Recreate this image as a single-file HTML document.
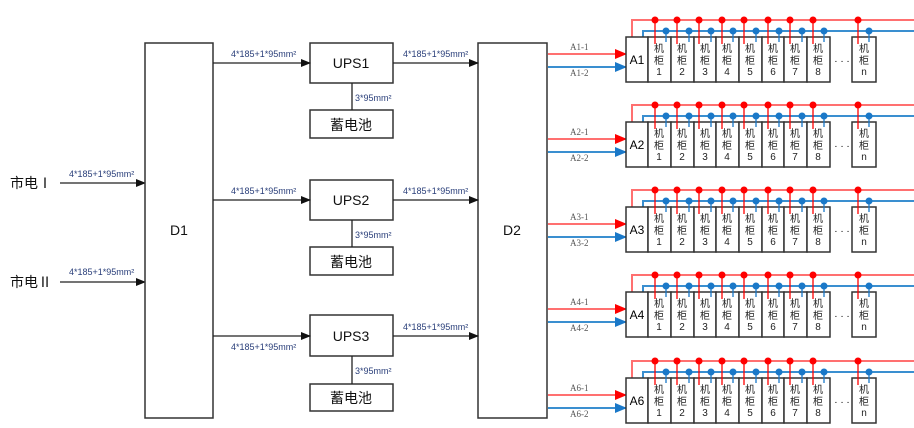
<!DOCTYPE html>
<html><head><meta charset="utf-8"><style>
html,body{margin:0;padding:0;background:#fff;}
svg{display:block;font-family:"Liberation Sans","Noto Sans CJK SC",sans-serif;}
.b{fill:#fff;stroke:#333;stroke-width:1.5}
.l{stroke:#222;stroke-width:1.3;fill:none}
.lab{fill:#2a3f7a;font-size:9px}
.big{fill:#111;font-size:14px;text-anchor:middle}
.c{font-size:10px;fill:#222;text-anchor:middle}
.al{font-family:"Liberation Serif",serif;font-size:9px;fill:#555}
.rl{stroke:#ff7070;stroke-width:2;fill:none}
.bl{stroke:#3a8fd0;stroke-width:2;fill:none}
.rd{stroke:#f00;stroke-width:1.3;fill:none}
.bd{stroke:#1a78c8;stroke-width:1.3;fill:none}
</style></head><body>
<svg width="914" height="428" viewBox="0 0 914 428" xmlns="http://www.w3.org/2000/svg">
<defs>
<marker id="ak" markerWidth="10" markerHeight="8" refX="9" refY="4" orient="auto" markerUnits="userSpaceOnUse"><path d="M0,0L10,4L0,8z" fill="#111"/></marker>
<marker id="ar" markerWidth="12" markerHeight="10" refX="11" refY="5" orient="auto" markerUnits="userSpaceOnUse"><path d="M0,0L12,5L0,10z" fill="#f00"/></marker>
<marker id="ab" markerWidth="12" markerHeight="10" refX="11" refY="5" orient="auto" markerUnits="userSpaceOnUse"><path d="M0,0L12,5L0,10z" fill="#1a78c8"/></marker>
</defs>

<!-- left part -->
<text x="10" y="188" font-size="14" fill="#111">市电Ⅰ</text>
<text x="10" y="287" font-size="14" fill="#111">市电Ⅱ</text>
<line x1="60" y1="183" x2="145" y2="183" class="l" marker-end="url(#ak)"/>
<line x1="60" y1="282" x2="145" y2="282" class="l" marker-end="url(#ak)"/>
<text x="69" y="177" class="lab">4*185+1*95mm²</text>
<text x="69" y="275" class="lab">4*185+1*95mm²</text>

<rect x="145" y="43" width="68" height="375" class="b"/>
<text x="179" y="235" class="big">D1</text>
<rect x="478" y="43" width="69" height="375" class="b"/>
<text x="512" y="235" class="big">D2</text>

<rect x="310" y="43" width="83" height="40" class="b"/><text x="351" y="68" class="big">UPS1</text>
<rect x="310" y="110" width="83" height="28" class="b"/><text x="351" y="130" class="big">蓄电池</text>
<line x1="352" y1="83" x2="352" y2="110" class="l"/><text x="355" y="101" class="lab">3*95mm²</text>
<line x1="213" y1="63" x2="310" y2="63" class="l" marker-end="url(#ak)"/><text x="231" y="57" class="lab">4*185+1*95mm²</text>
<line x1="393" y1="63" x2="478" y2="63" class="l" marker-end="url(#ak)"/><text x="403" y="57" class="lab">4*185+1*95mm²</text>

<rect x="310" y="180" width="83" height="40" class="b"/><text x="351" y="205" class="big">UPS2</text>
<rect x="310" y="247" width="83" height="28" class="b"/><text x="351" y="267" class="big">蓄电池</text>
<line x1="352" y1="220" x2="352" y2="247" class="l"/><text x="355" y="238" class="lab">3*95mm²</text>
<line x1="213" y1="200" x2="310" y2="200" class="l" marker-end="url(#ak)"/><text x="231" y="194" class="lab">4*185+1*95mm²</text>
<line x1="393" y1="200" x2="478" y2="200" class="l" marker-end="url(#ak)"/><text x="403" y="194" class="lab">4*185+1*95mm²</text>

<rect x="310" y="315" width="83" height="41" class="b"/><text x="351" y="341" class="big">UPS3</text>
<rect x="310" y="384" width="83" height="27" class="b"/><text x="351" y="403" class="big">蓄电池</text>
<line x1="352" y1="356" x2="352" y2="384" class="l"/><text x="355" y="374" class="lab">3*95mm²</text>
<line x1="213" y1="336" x2="310" y2="336" class="l" marker-end="url(#ak)"/><text x="231" y="350" class="lab">4*185+1*95mm²</text>
<line x1="393" y1="336" x2="478" y2="336" class="l" marker-end="url(#ak)"/><text x="403" y="330" class="lab">4*185+1*95mm²</text>

<!-- rows -->
<g id="r1">
<path class="rl" d="M632 37V20H914"/><path class="bl" d="M643 37V31H914"/>
<line x1="548" y1="54" x2="626" y2="54" class="rl" marker-end="url(#ar)"/>
<line x1="548" y1="67" x2="626" y2="67" class="bl" marker-end="url(#ab)"/>
<text x="570" y="50" class="al">A1-1</text><text x="570" y="76" class="al">A1-2</text>
<rect x="626" y="37" width="22" height="45" class="b"/><text x="637" y="64" font-size="12" text-anchor="middle">A1</text>
<rect x="648" y="37" width="23" height="45" class="b"/><rect x="671" y="37" width="23" height="45" class="b"/><rect x="694" y="37" width="22" height="45" class="b"/><rect x="716" y="37" width="23" height="45" class="b"/><rect x="739" y="37" width="23" height="45" class="b"/><rect x="762" y="37" width="22" height="45" class="b"/><rect x="784" y="37" width="23" height="45" class="b"/><rect x="807" y="37" width="23" height="45" class="b"/><rect x="852" y="37" width="24" height="45" class="b"/>
<path class="rd" d="M655 20V44M677 20V44M699 20V44M722 20V44M744 20V44M768 20V44M790 20V44M813 20V44M858 20V44"/>
<path class="bd" d="M666 31V42M689 31V42M711 31V42M733 31V42M756 31V42M779 31V42M802 31V42M824 31V42M869 31V42"/>
<g fill="#f00"><circle cx="655" cy="20" r="3.5"/><circle cx="677" cy="20" r="3.5"/><circle cx="699" cy="20" r="3.5"/><circle cx="722" cy="20" r="3.5"/><circle cx="744" cy="20" r="3.5"/><circle cx="768" cy="20" r="3.5"/><circle cx="790" cy="20" r="3.5"/><circle cx="813" cy="20" r="3.5"/><circle cx="858" cy="20" r="3.5"/></g>
<g fill="#1a78c8"><circle cx="666" cy="31" r="3.5"/><circle cx="689" cy="31" r="3.5"/><circle cx="711" cy="31" r="3.5"/><circle cx="733" cy="31" r="3.5"/><circle cx="756" cy="31" r="3.5"/><circle cx="779" cy="31" r="3.5"/><circle cx="802" cy="31" r="3.5"/><circle cx="824" cy="31" r="3.5"/><circle cx="869" cy="31" r="3.5"/></g>
<text class="c" x="659 682 705 727 750 773 795 818 864" y="52">机机机机机机机机机</text>
<text class="c" x="659 682 705 727 750 773 795 818 864" y="64">柜柜柜柜柜柜柜柜柜</text>
<text class="c" x="659 682 705 727 750 773 795 818 864" y="75">12345678n</text>
<text x="842" y="64" font-size="10" text-anchor="middle">· · ·</text>
</g>

<g transform="translate(0,85)">
<path class="rl" d="M632 37V20H914"/><path class="bl" d="M643 37V31H914"/>
<line x1="548" y1="54" x2="626" y2="54" class="rl" marker-end="url(#ar)"/>
<line x1="548" y1="67" x2="626" y2="67" class="bl" marker-end="url(#ab)"/>
<text x="570" y="50" class="al">A2-1</text><text x="570" y="76" class="al">A2-2</text>
<rect x="626" y="37" width="22" height="45" class="b"/><text x="637" y="64" font-size="12" text-anchor="middle">A2</text>
<rect x="648" y="37" width="23" height="45" class="b"/><rect x="671" y="37" width="23" height="45" class="b"/><rect x="694" y="37" width="22" height="45" class="b"/><rect x="716" y="37" width="23" height="45" class="b"/><rect x="739" y="37" width="23" height="45" class="b"/><rect x="762" y="37" width="22" height="45" class="b"/><rect x="784" y="37" width="23" height="45" class="b"/><rect x="807" y="37" width="23" height="45" class="b"/><rect x="852" y="37" width="24" height="45" class="b"/>
<path class="rd" d="M655 20V44M677 20V44M699 20V44M722 20V44M744 20V44M768 20V44M790 20V44M813 20V44M858 20V44"/>
<path class="bd" d="M666 31V42M689 31V42M711 31V42M733 31V42M756 31V42M779 31V42M802 31V42M824 31V42M869 31V42"/>
<g fill="#f00"><circle cx="655" cy="20" r="3.5"/><circle cx="677" cy="20" r="3.5"/><circle cx="699" cy="20" r="3.5"/><circle cx="722" cy="20" r="3.5"/><circle cx="744" cy="20" r="3.5"/><circle cx="768" cy="20" r="3.5"/><circle cx="790" cy="20" r="3.5"/><circle cx="813" cy="20" r="3.5"/><circle cx="858" cy="20" r="3.5"/></g>
<g fill="#1a78c8"><circle cx="666" cy="31" r="3.5"/><circle cx="689" cy="31" r="3.5"/><circle cx="711" cy="31" r="3.5"/><circle cx="733" cy="31" r="3.5"/><circle cx="756" cy="31" r="3.5"/><circle cx="779" cy="31" r="3.5"/><circle cx="802" cy="31" r="3.5"/><circle cx="824" cy="31" r="3.5"/><circle cx="869" cy="31" r="3.5"/></g>
<text class="c" x="659 682 705 727 750 773 795 818 864" y="52">机机机机机机机机机</text>
<text class="c" x="659 682 705 727 750 773 795 818 864" y="64">柜柜柜柜柜柜柜柜柜</text>
<text class="c" x="659 682 705 727 750 773 795 818 864" y="75">12345678n</text>
<text x="842" y="64" font-size="10" text-anchor="middle">· · ·</text>
</g>

<g transform="translate(0,170)">
<path class="rl" d="M632 37V20H914"/><path class="bl" d="M643 37V31H914"/>
<line x1="548" y1="54" x2="626" y2="54" class="rl" marker-end="url(#ar)"/>
<line x1="548" y1="67" x2="626" y2="67" class="bl" marker-end="url(#ab)"/>
<text x="570" y="50" class="al">A3-1</text><text x="570" y="76" class="al">A3-2</text>
<rect x="626" y="37" width="22" height="45" class="b"/><text x="637" y="64" font-size="12" text-anchor="middle">A3</text>
<rect x="648" y="37" width="23" height="45" class="b"/><rect x="671" y="37" width="23" height="45" class="b"/><rect x="694" y="37" width="22" height="45" class="b"/><rect x="716" y="37" width="23" height="45" class="b"/><rect x="739" y="37" width="23" height="45" class="b"/><rect x="762" y="37" width="22" height="45" class="b"/><rect x="784" y="37" width="23" height="45" class="b"/><rect x="807" y="37" width="23" height="45" class="b"/><rect x="852" y="37" width="24" height="45" class="b"/>
<path class="rd" d="M655 20V44M677 20V44M699 20V44M722 20V44M744 20V44M768 20V44M790 20V44M813 20V44M858 20V44"/>
<path class="bd" d="M666 31V42M689 31V42M711 31V42M733 31V42M756 31V42M779 31V42M802 31V42M824 31V42M869 31V42"/>
<g fill="#f00"><circle cx="655" cy="20" r="3.5"/><circle cx="677" cy="20" r="3.5"/><circle cx="699" cy="20" r="3.5"/><circle cx="722" cy="20" r="3.5"/><circle cx="744" cy="20" r="3.5"/><circle cx="768" cy="20" r="3.5"/><circle cx="790" cy="20" r="3.5"/><circle cx="813" cy="20" r="3.5"/><circle cx="858" cy="20" r="3.5"/></g>
<g fill="#1a78c8"><circle cx="666" cy="31" r="3.5"/><circle cx="689" cy="31" r="3.5"/><circle cx="711" cy="31" r="3.5"/><circle cx="733" cy="31" r="3.5"/><circle cx="756" cy="31" r="3.5"/><circle cx="779" cy="31" r="3.5"/><circle cx="802" cy="31" r="3.5"/><circle cx="824" cy="31" r="3.5"/><circle cx="869" cy="31" r="3.5"/></g>
<text class="c" x="659 682 705 727 750 773 795 818 864" y="52">机机机机机机机机机</text>
<text class="c" x="659 682 705 727 750 773 795 818 864" y="64">柜柜柜柜柜柜柜柜柜</text>
<text class="c" x="659 682 705 727 750 773 795 818 864" y="75">12345678n</text>
<text x="842" y="64" font-size="10" text-anchor="middle">· · ·</text>
</g>

<g transform="translate(0,255)">
<path class="rl" d="M632 37V20H914"/><path class="bl" d="M643 37V31H914"/>
<line x1="548" y1="54" x2="626" y2="54" class="rl" marker-end="url(#ar)"/>
<line x1="548" y1="67" x2="626" y2="67" class="bl" marker-end="url(#ab)"/>
<text x="570" y="50" class="al">A4-1</text><text x="570" y="76" class="al">A4-2</text>
<rect x="626" y="37" width="22" height="45" class="b"/><text x="637" y="64" font-size="12" text-anchor="middle">A4</text>
<rect x="648" y="37" width="23" height="45" class="b"/><rect x="671" y="37" width="23" height="45" class="b"/><rect x="694" y="37" width="22" height="45" class="b"/><rect x="716" y="37" width="23" height="45" class="b"/><rect x="739" y="37" width="23" height="45" class="b"/><rect x="762" y="37" width="22" height="45" class="b"/><rect x="784" y="37" width="23" height="45" class="b"/><rect x="807" y="37" width="23" height="45" class="b"/><rect x="852" y="37" width="24" height="45" class="b"/>
<path class="rd" d="M655 20V44M677 20V44M699 20V44M722 20V44M744 20V44M768 20V44M790 20V44M813 20V44M858 20V44"/>
<path class="bd" d="M666 31V42M689 31V42M711 31V42M733 31V42M756 31V42M779 31V42M802 31V42M824 31V42M869 31V42"/>
<g fill="#f00"><circle cx="655" cy="20" r="3.5"/><circle cx="677" cy="20" r="3.5"/><circle cx="699" cy="20" r="3.5"/><circle cx="722" cy="20" r="3.5"/><circle cx="744" cy="20" r="3.5"/><circle cx="768" cy="20" r="3.5"/><circle cx="790" cy="20" r="3.5"/><circle cx="813" cy="20" r="3.5"/><circle cx="858" cy="20" r="3.5"/></g>
<g fill="#1a78c8"><circle cx="666" cy="31" r="3.5"/><circle cx="689" cy="31" r="3.5"/><circle cx="711" cy="31" r="3.5"/><circle cx="733" cy="31" r="3.5"/><circle cx="756" cy="31" r="3.5"/><circle cx="779" cy="31" r="3.5"/><circle cx="802" cy="31" r="3.5"/><circle cx="824" cy="31" r="3.5"/><circle cx="869" cy="31" r="3.5"/></g>
<text class="c" x="659 682 705 727 750 773 795 818 864" y="52">机机机机机机机机机</text>
<text class="c" x="659 682 705 727 750 773 795 818 864" y="64">柜柜柜柜柜柜柜柜柜</text>
<text class="c" x="659 682 705 727 750 773 795 818 864" y="75">12345678n</text>
<text x="842" y="64" font-size="10" text-anchor="middle">· · ·</text>
</g>

<g transform="translate(0,341)">
<path class="rl" d="M632 37V20H914"/><path class="bl" d="M643 37V31H914"/>
<line x1="548" y1="54" x2="626" y2="54" class="rl" marker-end="url(#ar)"/>
<line x1="548" y1="67" x2="626" y2="67" class="bl" marker-end="url(#ab)"/>
<text x="570" y="50" class="al">A6-1</text><text x="570" y="76" class="al">A6-2</text>
<rect x="626" y="37" width="22" height="45" class="b"/><text x="637" y="64" font-size="12" text-anchor="middle">A6</text>
<rect x="648" y="37" width="23" height="45" class="b"/><rect x="671" y="37" width="23" height="45" class="b"/><rect x="694" y="37" width="22" height="45" class="b"/><rect x="716" y="37" width="23" height="45" class="b"/><rect x="739" y="37" width="23" height="45" class="b"/><rect x="762" y="37" width="22" height="45" class="b"/><rect x="784" y="37" width="23" height="45" class="b"/><rect x="807" y="37" width="23" height="45" class="b"/><rect x="852" y="37" width="24" height="45" class="b"/>
<path class="rd" d="M655 20V44M677 20V44M699 20V44M722 20V44M744 20V44M768 20V44M790 20V44M813 20V44M858 20V44"/>
<path class="bd" d="M666 31V42M689 31V42M711 31V42M733 31V42M756 31V42M779 31V42M802 31V42M824 31V42M869 31V42"/>
<g fill="#f00"><circle cx="655" cy="20" r="3.5"/><circle cx="677" cy="20" r="3.5"/><circle cx="699" cy="20" r="3.5"/><circle cx="722" cy="20" r="3.5"/><circle cx="744" cy="20" r="3.5"/><circle cx="768" cy="20" r="3.5"/><circle cx="790" cy="20" r="3.5"/><circle cx="813" cy="20" r="3.5"/><circle cx="858" cy="20" r="3.5"/></g>
<g fill="#1a78c8"><circle cx="666" cy="31" r="3.5"/><circle cx="689" cy="31" r="3.5"/><circle cx="711" cy="31" r="3.5"/><circle cx="733" cy="31" r="3.5"/><circle cx="756" cy="31" r="3.5"/><circle cx="779" cy="31" r="3.5"/><circle cx="802" cy="31" r="3.5"/><circle cx="824" cy="31" r="3.5"/><circle cx="869" cy="31" r="3.5"/></g>
<text class="c" x="659 682 705 727 750 773 795 818 864" y="52">机机机机机机机机机</text>
<text class="c" x="659 682 705 727 750 773 795 818 864" y="64">柜柜柜柜柜柜柜柜柜</text>
<text class="c" x="659 682 705 727 750 773 795 818 864" y="75">12345678n</text>
<text x="842" y="64" font-size="10" text-anchor="middle">· · ·</text>
</g>
</svg>
</body></html>
